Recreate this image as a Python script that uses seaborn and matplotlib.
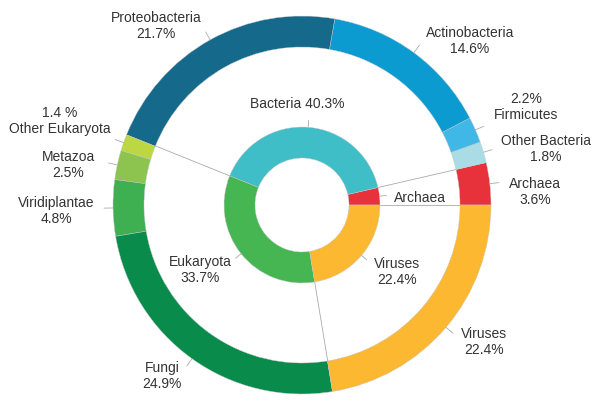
import numpy as np
import matplotlib
matplotlib.use("Agg")
import matplotlib.pyplot as plt
import seaborn as sns

# inner ring: kingdoms
inner_names = ['Archaea', 'Bacteria', 'Eukaryota', 'Viruses']
inner_values = [3.6, 40.3, 33.7, 22.4]
inner_colors = ['#e8323b', '#40bec8', '#45b652', '#fbb830']

# outer ring: sub-groups
outer_names = ['Archaea', 'Other Bacteria', 'Firmicutes', 'Actinobacteria', 'Proteobacteria',
               'Other Eukaryota', 'Metazoa', 'Viridiplantae', 'Fungi', 'Viruses']
outer_values = [3.6, 1.8, 2.2, 14.6, 21.7, 1.4, 2.5, 4.8, 24.9, 22.4]
outer_pct = ['3.6%', '1.8%', '2.2%', '14.6%', '21.7%', '1.4 %', '2.5%', '4.8%', '24.9%', '22.4%']
outer_colors = ['#e8323b', '#a9dce4', '#3fb8e8', '#0b9bd0', '#156a8c',
                '#bcd742', '#8dc44f', '#3fb052', '#098b4b', '#fbb830']

# label text layout (pixel positions in a 600x402 frame, y from top)
outer_label_pos = [(535, 192), (546, 149), (526, 107), (470, 41), (156, 26),
                   (60, 121), (68, 165), (56, 211), (162, 376), (484, 342)]
pct_first = ['Firmicutes', 'Other Eukaryota']

W, H = 600, 402
cx, cy = 302, H - 206
R_out, w_out = 189, 31
R_in, w_in = 78, 31

sns.set_theme(style='white')
plt.rcParams['font.family'] = ['Liberation Sans', 'DejaVu Sans']
txt_color = '#333333'
line_color = '#aaaaaa'

fig = plt.figure(figsize=(6, 4.02), dpi=100)
ax = fig.add_axes([0, 0, 1, 1])

wp = dict(edgecolor='#c8c8c8', linewidth=0.3)
ax.pie(outer_values, radius=R_out, center=(cx, cy), startangle=0, counterclock=True,
       colors=outer_colors, wedgeprops=dict(width=w_out, **wp))
ax.pie(inner_values, radius=R_in, center=(cx, cy), startangle=0, counterclock=True,
       colors=inner_colors, wedgeprops=dict(width=w_in, **wp))

# connecting lines between the rings at kingdom boundaries
bounds = np.concatenate([[0], np.cumsum(inner_values)]) / sum(inner_values) * 360
for a in bounds[:-1]:
    t = np.deg2rad(a)
    ax.plot([cx + R_in * np.cos(t), cx + (R_out - w_out) * np.cos(t)],
            [cy + R_in * np.sin(t), cy + (R_out - w_out) * np.sin(t)],
            color=line_color, lw=0.6, zorder=0)

# outer labels with short leader ticks
ob = np.concatenate([[0], np.cumsum(outer_values)]) / sum(outer_values) * 360
for i, name in enumerate(outer_names):
    t = np.deg2rad((ob[i] + ob[i + 1]) / 2)
    ax.plot([cx + R_out * np.cos(t), cx + (R_out + 9) * np.cos(t)],
            [cy + R_out * np.sin(t), cy + (R_out + 9) * np.sin(t)],
            color=line_color, lw=0.6)
    x, y = outer_label_pos[i]
    s = f'{outer_pct[i]}\n{name}' if name in pct_first else f'{name}\n{outer_pct[i]}'
    ax.text(x, H - y, s, ha='center', va='center', fontsize=10, color=txt_color,
            linespacing=1.15)

# inner labels
ib = bounds
inner_text = ['Archaea', 'Bacteria 40.3%', 'Eukaryota\n33.7%', 'Viruses\n22.4%']
inner_label_pos = [(420, 198), (297, 104), (200, 270), (397, 272)]
for i in range(len(inner_names)):
    t = np.deg2rad((ib[i] + ib[i + 1]) / 2)
    ax.plot([cx + R_in * np.cos(t), cx + (R_in + 7) * np.cos(t)],
            [cy + R_in * np.sin(t), cy + (R_in + 7) * np.sin(t)],
            color=line_color, lw=0.6)
    x, y = inner_label_pos[i]
    ax.text(x, H - y, inner_text[i], ha='center', va='center', fontsize=10,
            color=txt_color, linespacing=1.15)

ax.set_xlim(0, W)
ax.set_ylim(0, H)
ax.set_aspect('equal')
ax.axis('off')

fig.savefig('out.png', dpi=100)
